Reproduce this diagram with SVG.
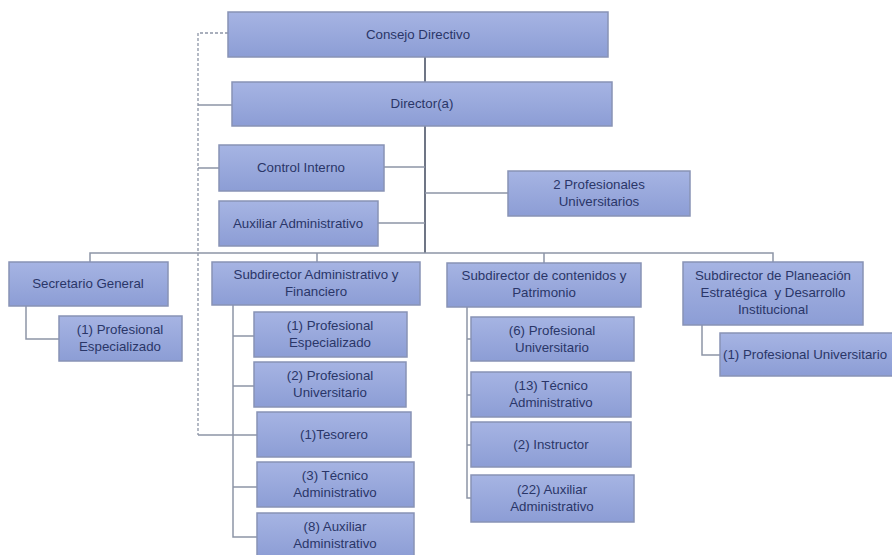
<svg xmlns="http://www.w3.org/2000/svg" width="892" height="555" viewBox="0 0 892 555">
<defs>
<linearGradient id="g" x1="0" y1="0" x2="0" y2="1">
<stop offset="0" stop-color="#A6B4E3"/>
<stop offset="1" stop-color="#8C9DD5"/>
</linearGradient>
<style>
.b{fill:url(#g);stroke:#8893B5;stroke-width:1.5}
.t{font-family:"Liberation Sans",Arial,sans-serif;font-size:13.3px;fill:#2A3668;text-anchor:middle}
.c{fill:none;stroke:#8D95A6;stroke-width:1.5}
.d{fill:none;stroke:#8D95A6;stroke-width:1.3;stroke-dasharray:3,2}
.m{fill:none;stroke:#5F6678;stroke-width:1.8}
</style>
</defs>
<rect width="892" height="555" fill="#FFFFFF"/>
<g id="connectors">
<path class="d" d="M228,33 H198 V435"/>
<path class="c" d="M198,105 H232"/>
<path class="c" d="M198,168 H219"/>
<path class="c" d="M198,435 H233"/>
<path class="m" d="M425,57 V82"/>
<path class="m" d="M425,126 V253"/>
<path class="c" d="M384,167 H425"/>
<path class="c" d="M378,223 H425"/>
<path class="c" d="M425,193 H508"/>
<path class="c" d="M90,262 V253 H773 V262"/>
<path class="c" d="M317,253 V262"/>
<path class="c" d="M544,253 V263"/>
<path class="c" d="M26,306 V339 H59"/>
<path class="c" d="M233,305 V537 H257"/>
<path class="c" d="M233,336 H254"/>
<path class="c" d="M233,386 H254"/>
<path class="c" d="M233,435 H257"/>
<path class="c" d="M233,487 H257"/>
<path class="c" d="M467,307 V498 H471"/>
<path class="c" d="M467,339 H471"/>
<path class="c" d="M467,395 H471"/>
<path class="c" d="M467,445 H471"/>
<path class="c" d="M702,325 V355 H720"/>
</g>
<g id="consejo"><rect class="b" x="228" y="12" width="380" height="45"/><text class="t" x="418" y="39">Consejo Directivo</text></g>
<g id="director"><rect class="b" x="232" y="82" width="380" height="44"/><text class="t" x="422" y="108">Director(a)</text></g>
<g id="control"><rect class="b" x="219" y="145" width="165" height="46"/><text class="t" x="301" y="172">Control Interno</text></g>
<g id="auxiliar"><rect class="b" x="219" y="201" width="159" height="45"/><text class="t" x="298" y="228">Auxiliar Administrativo</text></g>
<g id="profesionales"><rect class="b" x="508" y="171" width="182" height="45"/><text class="t" x="599" y="189">2 Profesionales</text><text class="t" x="599" y="206">Universitarios</text></g>
<g id="secretario"><rect class="b" x="9" y="262" width="159" height="44"/><text class="t" x="88" y="288">Secretario General</text></g>
<g id="sec-prof"><rect class="b" x="59" y="316" width="123" height="45"/><text class="t" x="120" y="334">(1) Profesional</text><text class="t" x="120" y="351">Especializado</text></g>
<g id="subadmin"><rect class="b" x="212" y="262" width="208" height="43"/><text class="t" x="316" y="279">Subdirector Administrativo y</text><text class="t" x="316" y="296">Financiero</text></g>
<g id="adm1"><rect class="b" x="254" y="312" width="153" height="45"/><text class="t" x="330" y="330">(1) Profesional</text><text class="t" x="330" y="347">Especializado</text></g>
<g id="adm2"><rect class="b" x="254" y="362" width="152" height="45"/><text class="t" x="330" y="380">(2) Profesional</text><text class="t" x="330" y="397">Universitario</text></g>
<g id="adm3"><rect class="b" x="257" y="412" width="154" height="45"/><text class="t" x="334" y="439">(1)Tesorero</text></g>
<g id="adm4"><rect class="b" x="257" y="462" width="157" height="45"/><text class="t" x="335" y="480">(3) Técnico</text><text class="t" x="335" y="497">Administrativo</text></g>
<g id="adm5"><rect class="b" x="257" y="513" width="157" height="45"/><text class="t" x="335" y="531">(8) Auxiliar</text><text class="t" x="335" y="548">Administrativo</text></g>
<g id="subcont"><rect class="b" x="447" y="263" width="194" height="44"/><text class="t" x="544" y="280">Subdirector de contenidos y</text><text class="t" x="544" y="297">Patrimonio</text></g>
<g id="cont1"><rect class="b" x="471" y="317" width="163" height="44"/><text class="t" x="552" y="335">(6) Profesional</text><text class="t" x="552" y="352">Universitario</text></g>
<g id="cont2"><rect class="b" x="471" y="372" width="160" height="45"/><text class="t" x="551" y="390">(13) Técnico</text><text class="t" x="551" y="407">Administrativo</text></g>
<g id="cont3"><rect class="b" x="471" y="422" width="160" height="45"/><text class="t" x="551" y="449">(2) Instructor</text></g>
<g id="cont4"><rect class="b" x="471" y="475" width="163" height="47"/><text class="t" x="552" y="494">(22) Auxiliar</text><text class="t" x="552" y="511">Administrativo</text></g>
<g id="subplan"><rect class="b" x="683" y="262" width="180" height="63"/><text class="t" x="773" y="280">Subdirector de Planeación</text><text class="t" x="773" y="297" xml:space="preserve">Estratégica  y Desarrollo</text><text class="t" x="773" y="314">Institucional</text></g>
<g id="plan1"><rect class="b" x="720" y="333" width="190" height="43"/><text class="t" x="723" y="359" style="text-anchor:start">(1) Profesional Universitario</text></g>
</svg>
